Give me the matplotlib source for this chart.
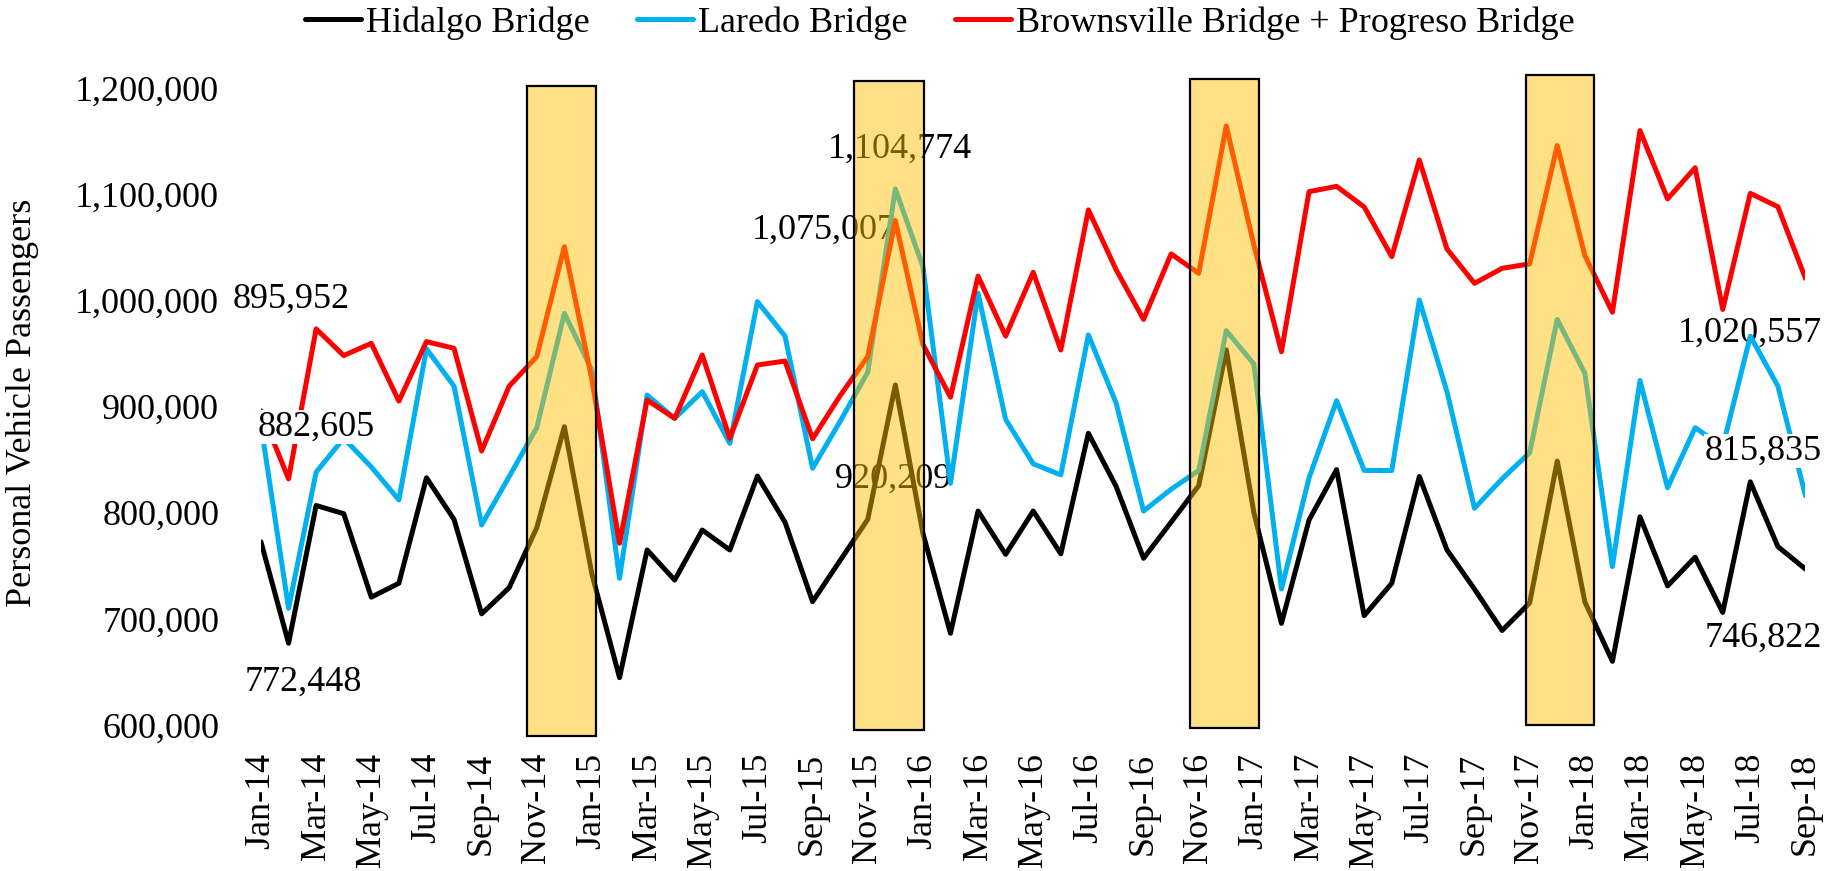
import numpy as np
import matplotlib
matplotlib.use('Agg')
import matplotlib.pyplot as plt
from matplotlib.patches import Rectangle
from matplotlib.ticker import FuncFormatter

plt.rcParams['font.family'] = ['Liberation Serif', 'DejaVu Serif']

# monthly labels Jan-14 .. Sep-18
mon_names = ['Jan', 'Feb', 'Mar', 'Apr', 'May', 'Jun', 'Jul', 'Aug', 'Sep', 'Oct', 'Nov', 'Dec']
months = ['%s-%d' % (m, y) for y in range(14, 19) for m in mon_names][:57]

hidalgo = [772448, 677000, 806700, 799000, 720400, 733500, 832800, 793600, 704700, 729300,
           785800, 880900, 742000, 644600, 764800, 736500, 783600, 764800, 834400, 791000,
           716200, 755000, 793600, 920209, 780500, 686400, 801500, 760700, 801500, 761200,
           874700, 825000, 757000, 791000, 825400, 953300, 800000, 695700, 793000, 840500,
           703000, 733500, 834000, 765000, 728000, 689000, 715000, 848500, 716000, 660000,
           796000, 731000, 758000, 706000, 829000, 768000, 746822]

laredo = [882605, 709900, 838100, 870000, 843000, 812000, 954200, 919100, 788400, 834000,
          880000, 987600, 934000, 738100, 910700, 888700, 913900, 865200, 998700, 966200,
          841700, 886000, 932200, 1104774, 1031600, 827600, 1006500, 887800, 845900, 835500,
          967300, 903500, 801500, 822000, 839700, 971300, 939900, 728100, 832600, 905400,
          839700, 839600, 1000200, 914000, 804100, 831800, 856400, 981900, 931200, 749200,
          924400, 823400, 880000, 862000, 966200, 919100, 815835]

brownsville = [895952, 831800, 973000, 947900, 959400, 905000, 961000, 954700, 858000, 919100,
               946900, 1050400, 925000, 771100, 906000, 888700, 948400, 869900, 939000, 942700,
               869500, 910200, 946900, 1075007, 958400, 908700, 1022700, 966200, 1026300, 953100,
               1085000, 1029000, 981900, 1043600, 1025300, 1164100, 1052000, 951500, 1102200, 1107200,
               1087800, 1041000, 1132000, 1048300, 1015900, 1030000, 1034200, 1145600, 1042100, 988700,
               1159700, 1095400, 1124700, 991300, 1100600, 1088000, 1020557]

# highlighted holiday periods (month index span, value span)
hl_start = [9.63, 21.51, 33.69, 45.85]
hl_end = [12.15, 24.05, 36.19, 48.34]
hl_low = [589700, 594900, 597500, 600100]
hl_high = [1201600, 1206800, 1208400, 1212000]

fs = 26
x = np.arange(len(months))

fig = plt.figure(figsize=(18.25, 8.71), dpi=100)
ax = fig.add_axes([0.1430, 0.1676, 0.8463, 0.7316])

kw = dict(lw=3.6, solid_joinstyle='round', solid_capstyle='round')
l1, = ax.plot(x, hidalgo, color='black', zorder=2, label='Hidalgo Bridge', **kw)
l2, = ax.plot(x, laredo, color='#00B0F0', zorder=2.1, label='Laredo Bridge', **kw)
l3, = ax.plot(x, brownsville, color='#FF0000', zorder=2.2, label='Brownsville Bridge + Progreso Bridge', **kw)

# data labels: series, index, offset in pixels, drawn over the lines or not
lab = [(brownsville, 0, 30, 111, True), (laredo, 0, 55, -2, True), (hidalgo, 0, 42, -140, True),
       (laredo, 23, 5, 40, False), (brownsville, 23, -71, -10, False), (hidalgo, 23, -2, -94, False),
       (brownsville, 56, -56, -55, False), (laredo, 56, -42, 45, True), (hidalgo, 56, -42, -69, True)]
for s, i, dx, dy, top in lab:
    ax.annotate('{:,}'.format(s[i]), xy=(i, s[i]), xytext=(dx, dy), textcoords='offset pixels',
                ha='center', va='center', fontsize=fs, zorder=4 if top else 1.5,
                annotation_clip=False,
                bbox=dict(facecolor='white', edgecolor='none', pad=0.5))

for a, b, lo, hi in zip(hl_start, hl_end, hl_low, hl_high):
    ax.add_patch(Rectangle((a, lo), b - a, hi - lo, facecolor=(1.0, 0.753, 0.0, 0.48),
                           edgecolor='black', lw=1.6, zorder=5, clip_on=False))

ax.set_xlim(0, 56)
ax.set_ylim(600000, 1200000)
ax.set_yticks(np.arange(600000, 1200001, 100000))
ax.yaxis.set_major_formatter(FuncFormatter(lambda v, p: '{:,}'.format(int(v))))
ax.set_xticks(x[::2])
ax.set_xticklabels(months[::2], rotation=90)
ax.tick_params(axis='both', length=0, labelsize=fs)
ax.tick_params(axis='x', pad=20)
ax.tick_params(axis='y', pad=30)
for sp in ax.spines.values():
    sp.set_visible(False)

fig.text(23 / 1825, 1 - 403 / 871, 'Personal Vehicle Passengers', rotation=90,
         ha='center', va='center', fontsize=fs)

fig.legend(handles=[l1, l2, l3], loc='center', bbox_to_anchor=(0.515, 0.9736), ncol=3,
           frameon=False, fontsize=fs, handlelength=1.55, handletextpad=0.15,
           columnspacing=1.3, borderpad=0)

plt.savefig('out.png', dpi=100)
